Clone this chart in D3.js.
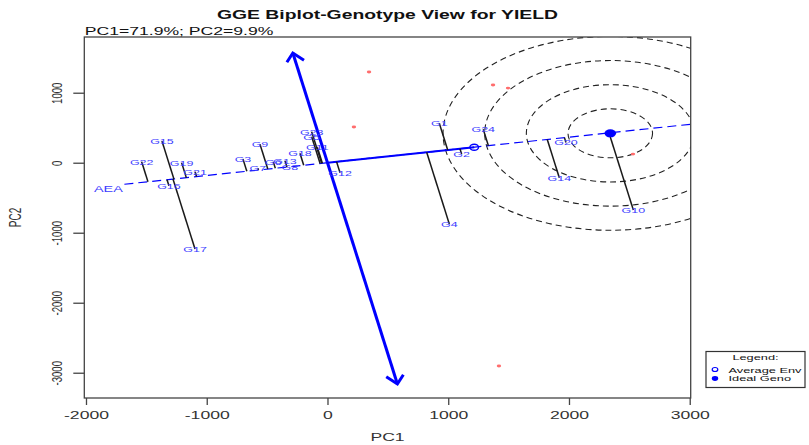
<!DOCTYPE html>
<html><head><meta charset="utf-8">
<script src="https://cdn.jsdelivr.net/npm/d3@7"></script>
<style>
body{margin:0;background:#fff;}
svg{display:block;}
text{font-family:"Liberation Sans",Arial,Helvetica,sans-serif;}
</style>
</head><body>
<svg id="chart" width="809" height="445"></svg>
<script>
// ---------- data ----------
const genotypes = ["G1","G2","G3","G4","G5","G6","G7","G8","G9","G10","G11","G12",
                   "G13","G14","G15","G16","G17","G18","G19","G20","G21","G22","G23","G24"];
const genoPC1 = [926, 1111, -700, 1009, -131, -449, -576, -311, -559, 2533, -84, 104,
                 -352, 1920, -1371, -1313, -1097, -228, -1208, 1975, -1097, -1539, -131, 1290];
const genoPC2 = [563, 124, 53, -876, 371, 14, -80, -57, 263, -676, 220, -143,
                 29, -214, 310, -329, -1233, 134, 0, 289, -129, 14, 443, 477];
const envPC1 = [344, 219, 1371, 1495, 2530, 1420];
const envPC2 = [1296, 510, 1110, 1067, 124, -2904];
const averageEnv = [1215, 222];
const idealGeno = [2342, 420];
const stabilityTop = [-287, 1567];
const stabilityBottom = [579, -3161];
const ringRadii = [350, 695, 1040, 1385];
const aeaRange = [-1710, 3300];
const xTicks = [-2000, -1000, 0, 1000, 2000, 3000];
const yTicks = [1000, 0, -1000, -2000, -3000];
const titleText = "GGE Biplot-Genotype View for YIELD";
const subtitleText = "PC1=71.9%; PC2=9.9%";
const legendItems = ["Average Env", "Ideal Geno"];

// ---------- layout ----------
const SX = 1.6; // horizontal stretch of the original picture
const frame = {left: 84.3, right: 690.7, top: 37, bottom: 398};
const x = d3.scaleLinear().domain([-2014, 3008]).range([frame.left, frame.right]);
const y = d3.scaleLinear().domain([1796, -3361]).range([frame.top, frame.bottom]);
const BLUE = "#0000ff", LBL = "#3d3dff";

const svg = d3.select("#chart");
svg.append("rect").attr("width", 809).attr("height", 445).attr("fill", "#fff");

function stext(parent, px, py, str, size, opts = {}) {
  const t = parent.append("text")
    .attr("transform", `translate(${px},${py}) scale(${SX},1)` + (opts.rotate ? ` rotate(${opts.rotate})` : ""))
    .attr("text-anchor", opts.anchor || "middle")
    .attr("font-size", size)
    .attr("fill", opts.fill || "#000")
    .text(str);
  if (opts.bold) t.attr("font-weight", "bold");
  if (opts.dy) t.attr("dy", opts.dy);
  return t;
}

svg.append("defs").append("clipPath").attr("id", "clip")
  .append("rect").attr("x", frame.left).attr("y", frame.top)
  .attr("width", frame.right - frame.left).attr("height", frame.bottom - frame.top);

const plot = svg.append("g").attr("clip-path", "url(#clip)");

// AEA direction
const aLen = Math.hypot(averageEnv[0], averageEnv[1]);
const ux = averageEnv[0] / aLen, uy = averageEnv[1] / aLen;

// concentric rings around ideal genotype
plot.selectAll("ellipse.ring").data(ringRadii).join("ellipse")
  .attr("class", "ring")
  .attr("cx", x(idealGeno[0])).attr("cy", y(idealGeno[1]))
  .attr("rx", r => x(r) - x(0)).attr("ry", r => y(0) - y(r))
  .attr("fill", "none").attr("stroke", "#222").attr("stroke-width", 1.1)
  .attr("stroke-dasharray", "6,4");

// AEA dashed line
plot.append("line")
  .attr("x1", x(aeaRange[0] * ux)).attr("y1", y(aeaRange[0] * uy))
  .attr("x2", x(aeaRange[1] * ux)).attr("y2", y(aeaRange[1] * uy))
  .attr("stroke", BLUE).attr("stroke-width", 1.2).attr("stroke-dasharray", "9,5");

// solid segment origin -> average environment
plot.append("line")
  .attr("x1", x(0)).attr("y1", y(0))
  .attr("x2", x(averageEnv[0])).attr("y2", y(averageEnv[1]))
  .attr("stroke", BLUE).attr("stroke-width", 2);

// projection lines of genotypes onto AEA
const genos = genotypes.map((g, i) => {
  const p1 = genoPC1[i], p2 = genoPC2[i];
  const t = p1 * ux + p2 * uy;
  return {g, p1, p2, q1: t * ux, q2: t * uy};
});
plot.selectAll("line.proj").data(genos).join("line")
  .attr("class", "proj")
  .attr("x1", d => x(d.p1)).attr("y1", d => y(d.p2))
  .attr("x2", d => x(d.q1)).attr("y2", d => y(d.q2))
  .attr("stroke", "#1a1a1a").attr("stroke-width", 1.5);

// stability axis with arrowheads
const sx1 = x(stabilityTop[0]), sy1 = y(stabilityTop[1]);
const sx2 = x(stabilityBottom[0]), sy2 = y(stabilityBottom[1]);
plot.append("line").attr("x1", sx1).attr("y1", sy1).attr("x2", sx2).attr("y2", sy2)
  .attr("stroke", BLUE).attr("stroke-width", 3);
function arrowHead(tx, ty, fx, fy) {
  let dx = (fx - tx) / SX, dy = fy - ty;
  const L = Math.hypot(dx, dy); dx /= L; dy /= L;
  const len = 10, ang = 33 * Math.PI / 180;
  const pts = [-1, 1].map(s => {
    const c = Math.cos(s * ang), sn = Math.sin(s * ang);
    return [tx + (dx * c - dy * sn) * len * SX, ty + (dx * sn + dy * c) * len];
  });
  plot.append("path")
    .attr("d", `M${pts[0][0]},${pts[0][1]} L${tx},${ty} L${pts[1][0]},${pts[1][1]}`)
    .attr("fill", "none").attr("stroke", BLUE).attr("stroke-width", 3)
    .attr("stroke-linejoin", "miter");
}
arrowHead(sx1, sy1, sx2, sy2);
arrowHead(sx2, sy2, sx1, sy1);

// environment points (red)
plot.selectAll("ellipse.env").data(envPC1).join("ellipse")
  .attr("class", "env")
  .attr("cx", (d, i) => x(d)).attr("cy", (d, i) => y(envPC2[i]))
  .attr("rx", 2.2).attr("ry", 1.4).attr("fill", "#ff6d6d");

// average env marker and ideal genotype marker
plot.append("ellipse").attr("cx", x(averageEnv[0])).attr("cy", y(averageEnv[1]))
  .attr("rx", 4.3).attr("ry", 3).attr("fill", "none").attr("stroke", BLUE).attr("stroke-width", 1.4);
plot.append("ellipse").attr("cx", x(idealGeno[0])).attr("cy", y(idealGeno[1]))
  .attr("rx", 5.8).attr("ry", 4).attr("fill", BLUE);

// genotype labels
genos.forEach(d => stext(plot, x(d.p1), y(d.p2), d.g, 7.8, {fill: LBL, dy: "0.36em"}));
// AEA label
stext(svg, x(aeaRange[0] * ux) - 16, y(aeaRange[0] * uy) + 4.5, "AEA", 9, {fill: LBL, dy: "0.36em"});

// frame
svg.append("rect").attr("x", frame.left).attr("y", frame.top)
  .attr("width", frame.right - frame.left).attr("height", frame.bottom - frame.top)
  .attr("fill", "none").attr("stroke", "#444").attr("stroke-width", 1.3);

// axes
const gx = svg.append("g").attr("transform", `translate(0,${frame.bottom})`)
  .call(d3.axisBottom(x).tickValues(xTicks).tickSize(7).tickFormat(d => String(d)));
gx.select(".domain").remove();
gx.selectAll(".tick line").attr("stroke", "#444").attr("stroke-width", 1.3);
gx.selectAll(".tick text").attr("y", 21.5).attr("dy", 0).attr("x", 0)
  .attr("font-size", 11).attr("fill", "#333").attr("font-family", null)
  .attr("transform", `scale(${SX},1)`);

const gy = svg.append("g").attr("transform", `translate(${frame.left},0)`)
  .call(d3.axisLeft(y).tickValues(yTicks).tickSize(11).tickFormat(d => String(d)));
gy.select(".domain").remove();
gy.selectAll(".tick line").attr("stroke", "#444").attr("stroke-width", 1.3);
gy.selectAll(".tick text").attr("x", 0).attr("y", 0).attr("dy", 0)
  .attr("text-anchor", "middle").attr("font-size", 9.6).attr("fill", "#333").attr("font-family", null)
  .attr("transform", `translate(-22.5,0) scale(${SX},1) rotate(-90)`);

// titles
stext(svg, (frame.left + frame.right) / 2, 19, titleText, 12.1, {bold: true, fill: "#111"});
stext(svg, frame.left + 0.5, 34.5, subtitleText, 11, {anchor: "start", fill: "#111"});
stext(svg, (frame.left + frame.right) / 2, 441, "PC1", 11, {fill: "#333"});
stext(svg, 21, (frame.top + frame.bottom) / 2, "PC2", 10, {fill: "#333", rotate: -90});

// legend
const lg = svg.append("g");
lg.append("rect").attr("x", 706).attr("y", 351.5).attr("width", 99).attr("height", 36)
  .attr("fill", "#fff").attr("stroke", "#333").attr("stroke-width", 1.2);
stext(lg, 755.5, 359.5, "Legend:", 8, {fill: "#111"});
lg.append("ellipse").attr("cx", 715).attr("cy", 369.5).attr("rx", 2.8).attr("ry", 2)
  .attr("fill", "none").attr("stroke", BLUE).attr("stroke-width", 1.2);
lg.append("ellipse").attr("cx", 715).attr("cy", 378.5).attr("rx", 3.2).attr("ry", 2.4).attr("fill", BLUE);
legendItems.forEach((t, i) => stext(lg, 728.5, 372.5 + i * 8.7, t, 8, {anchor: "start", fill: "#111"}));
</script>
</body></html>
